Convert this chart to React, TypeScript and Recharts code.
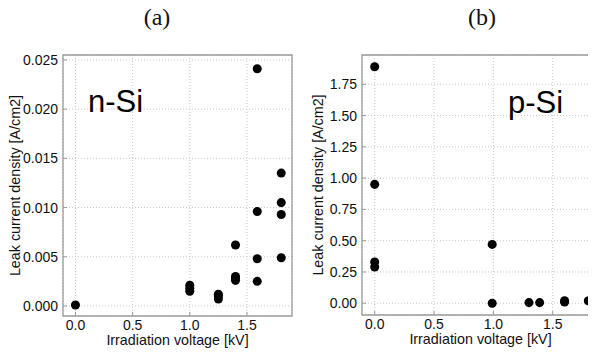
import { CartesianGrid, ReferenceArea, Scatter, ScatterChart, XAxis, YAxis, ZAxis } from "recharts";

// n-Si panel (a)
const nSiVoltage = [0, 1.0, 1.0, 1.0, 1.25, 1.25, 1.25, 1.4, 1.4, 1.4, 1.4, 1.59, 1.59, 1.59, 1.59, 1.8, 1.8, 1.8, 1.8];
const nSiCurrent = [
  0.0001, 0.0021, 0.0018, 0.0015, 0.0012, 0.001, 0.0007, 0.0062, 0.003, 0.0028, 0.0026, 0.0241, 0.0096, 0.0048,
  0.0025, 0.0135, 0.0105, 0.0093, 0.0049,
];

// p-Si panel (b)
const pSiVoltage = [0, 0, 0, 0, 0.99, 0.99, 1.3, 1.39, 1.6, 1.6, 1.8];
const pSiCurrent = [1.89, 0.95, 0.33, 0.29, 0.47, 0.0, 0.005, 0.005, 0.01, 0.02, 0.02];

const xTicks = [0, 0.5, 1.0, 1.5];
const nSiTicks = [0, 0.005, 0.01, 0.015, 0.02, 0.025];
const pSiTicks = [0, 0.25, 0.5, 0.75, 1.0, 1.25, 1.5, 1.75];

const panelTitles = ["(a)", "(b)"];
const materials = ["n-Si", "p-Si"];
const xLabel = "Irradiation voltage [kV]";
const yLabel = "Leak current density [A/cm2]";

const FONT = '"Liberation Sans", Arial, Helvetica, sans-serif';
const FRAME = "#9a9a9a";

const toPoints = (xs: number[], ys: number[]) => xs.map((x, i) => ({ x, y: ys[i] }));

interface PanelProps {
  data: { x: number; y: number }[];
  yDomain: [number, number];
  xDomain: [number, number];
  yTicks: number[];
  yDigits: number;
  width: number;
  margin: { top: number; right: number; left: number; bottom: number };
  yAxisWidth: number;
  labelOffset: number;
}

function Panel({ data, yDomain, xDomain, yTicks, yDigits, width, margin, yAxisWidth, labelOffset }: PanelProps) {
  const tickStyle = { fill: "#111", fontSize: 14, fontFamily: FONT };
  return (
    <ScatterChart width={width} height={354} margin={margin}>
      <CartesianGrid stroke="#c8c8c8" strokeDasharray="1 2" />
      <XAxis
        type="number"
        dataKey="x"
        domain={xDomain}
        ticks={xTicks}
        allowDataOverflow
        height={30}
        tickFormatter={(v: number) => v.toFixed(1)}
        tick={tickStyle}
        axisLine={false}
        tickLine={{ stroke: FRAME }}
        tickSize={-4}
        tickMargin={8}
        label={{
          value: xLabel,
          position: "insideBottom",
          offset: 1,
          style: { fill: "#111", fontSize: 14.3, fontFamily: FONT },
        }}
      />
      <YAxis
        type="number"
        dataKey="y"
        domain={yDomain}
        ticks={yTicks}
        allowDataOverflow
        width={yAxisWidth}
        tickFormatter={(v: number) => v.toFixed(yDigits)}
        tick={tickStyle}
        axisLine={false}
        tickLine={{ stroke: FRAME }}
        tickSize={-4}
        tickMargin={9}
        label={{
          value: yLabel,
          angle: -90,
          position: "insideLeft",
          offset: labelOffset,
          style: { fill: "#111", fontSize: 14.3, fontFamily: FONT, textAnchor: "middle" },
        }}
      />
      <ZAxis range={[80, 80]} />
      <ReferenceArea
        x1={xDomain[0]}
        x2={xDomain[1]}
        y1={yDomain[0]}
        y2={yDomain[1]}
        fill="none"
        stroke={FRAME}
        strokeWidth={1.3}
        ifOverflow="visible"
      />
      <Scatter data={data} fill="#000" isAnimationActive={false} />
    </ScatterChart>
  );
}

export default function App() {
  const serif = '"Liberation Serif", "Times New Roman", serif';
  return (
    <div
      style={{
        position: "relative",
        marginTop: -8,
        marginLeft: -8,
        width: 596,
        height: 354,
        overflow: "hidden",
        background: "#fff",
      }}
    >
      <div style={{ position: "absolute", left: 0, top: 0 }}>
        <Panel
          data={toPoints(nSiVoltage, nSiCurrent)}
          xDomain={[-0.109, 1.894]}
          yDomain={[-0.00102, 0.0255]}
          yTicks={nSiTicks}
          yDigits={3}
          width={300}
          margin={{ top: 55, right: 8, left: 18, bottom: 8 }}
          yAxisWidth={45}
          labelOffset={-3}
        />
      </div>
      <div style={{ position: "absolute", left: 300, top: 0 }}>
        <Panel
          data={toPoints(pSiVoltage, pSiCurrent)}
          xDomain={[-0.107, 1.89]}
          yDomain={[-0.094, 1.984]}
          yTicks={pSiTicks}
          yDigits={2}
          width={320}
          margin={{ top: 55, right: 21, left: 22, bottom: 9 }}
          yAxisWidth={40}
          labelOffset={-3.7}
        />
      </div>
      <svg width={596} height={354} style={{ position: "absolute", left: 0, top: 0, pointerEvents: "none" }}>
        <text x={157} y={25} textAnchor="middle" fontFamily={serif} fontSize={24} fill="#111">
          {panelTitles[0]}
        </text>
        <text x={482} y={25} textAnchor="middle" fontFamily={serif} fontSize={24} fill="#111">
          {panelTitles[1]}
        </text>
        <text x={88} y={112} fontFamily={FONT} fontSize={31} fill="#000">
          {materials[0]}
        </text>
        <text x={508} y={113} fontFamily={FONT} fontSize={31} fill="#000">
          {materials[1]}
        </text>
      </svg>
    </div>
  );
}
